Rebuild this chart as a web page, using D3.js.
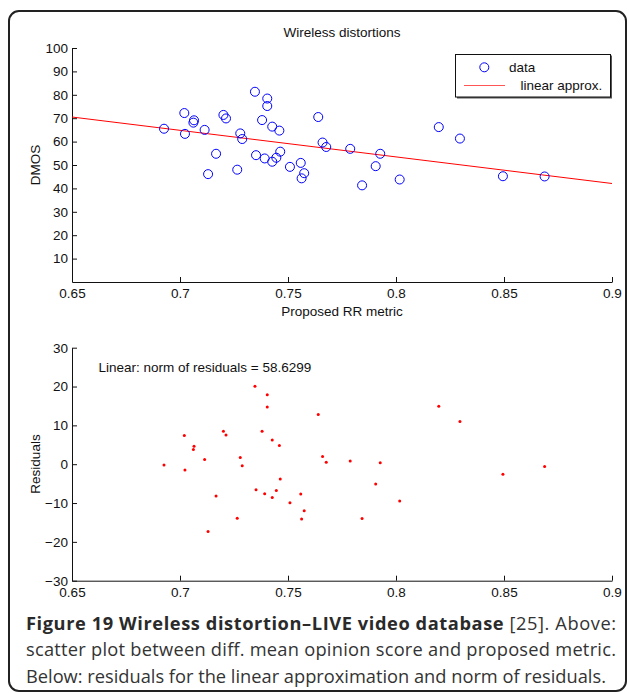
<!DOCTYPE html>
<html>
<head>
<meta charset="utf-8">
<script src="https://cdn.jsdelivr.net/npm/d3@7"></script>
<style>
  body { margin: 0; background: #fff; }
  svg { display: block; }
  .chart text { font-family: "Liberation Sans", Arial, sans-serif; font-size: 13.5px; fill: #111; }
  .cap { font-family: "Open Sans", sans-serif; fill: #333; }
</style>
</head>
<body>
<svg id="fig" width="629" height="693"></svg>
<script>
// ---- data ----
const rrMetric = [0.6926, 0.7020, 0.7023, 0.7065, 0.7062, 0.7114, 0.7167, 0.7130, 0.7201, 0.7213,
                  0.7279, 0.7288, 0.7265, 0.7347, 0.7404, 0.7404, 0.7380, 0.7427, 0.7460, 0.7352,
                  0.7392, 0.7446, 0.7464, 0.7427, 0.7509, 0.7559, 0.7575, 0.7563, 0.7640, 0.7660,
                  0.7677, 0.7788, 0.7843, 0.7906, 0.7927, 0.8017, 0.8198, 0.8296, 0.8495, 0.8688];
const dmos = [65.5, 72.2, 63.3, 69.1, 68.1, 65.0, 54.8, 46.1, 71.4, 69.9,
              63.5, 61.1, 48.0, 81.3, 78.4, 75.2, 69.2, 66.4, 64.7, 54.2,
              52.8, 53.1, 55.7, 51.4, 49.2, 50.9, 46.5, 44.3, 70.5, 59.6,
              57.7, 56.9, 41.3, 49.5, 54.8, 43.8, 66.2, 61.3, 45.2, 45.1];
const residuals = [-0.2, 7.4, -1.5, 4.6, 3.8, 1.2, -8.2, -17.3, 8.5, 7.5,
                   1.7, -0.4, -13.9, 20.1, 17.9, 14.7, 8.5, 6.2, 4.8, -6.6,
                   -7.6, -6.8, -3.8, -8.6, -9.9, -7.7, -12.0, -14.1, 12.8, 2.0,
                   0.5, 0.8, -14.0, -5.1, 0.4, -9.5, 14.9, 11.0, -2.6, -0.6];
const fitX = [0.65, 0.90];
const fitY = [70.5, 42.1];
const xTicks = [0.65, 0.7, 0.75, 0.8, 0.85, 0.9];
const yTicksTop = [10, 20, 30, 40, 50, 60, 70, 80, 90, 100];
const yTicksBottom = [-30, -20, -10, 0, 10, 20, 30];
const titleText = "Wireless distortions";
const xLabel = "Proposed RR metric";
const yLabelTop = "DMOS";
const yLabelBottom = "Residuals";
const legendLabels = ["data", "linear approx."];
const normText = "Linear: norm of residuals = 58.6299";
const captionBold = "Figure 19 Wireless distortion\u2013LIVE video database";
const captionLines = [" [25]. Above:",
  "scatter plot between diff. mean opinion score and proposed metric.",
  "Below: residuals for the linear approximation and norm of residuals."];

const svg = d3.select("#fig");

// outer frame
svg.append("rect").attr("x", 9).attr("y", 11).attr("width", 617).attr("height", 680)
  .attr("rx", 10).attr("ry", 10).attr("fill", "none").attr("stroke", "#222").attr("stroke-width", 2);

const chart = svg.append("g").attr("class", "chart");

const x = d3.scaleLinear().domain([0.65, 0.9]).range([72, 612]);
const yTop = d3.scaleLinear().domain([0, 100]).range([282, 48]);
const yBot = d3.scaleLinear().domain([-30, 30]).range([580.7, 347.7]);

function drawAxes(yScale, yTicks, yFmt) {
  const gx = chart.append("g").attr("transform", `translate(0,${yScale.range()[0]})`)
    .call(d3.axisBottom(x).tickValues(xTicks).tickFormat(d => String(d))
      .tickSize(-5).tickSizeOuter(0).tickPadding(6.5));
  const gy = chart.append("g").attr("transform", `translate(${x.range()[0]},0)`)
    .call(d3.axisLeft(yScale).tickValues(yTicks).tickFormat(yFmt)
      .tickSize(-5).tickSizeOuter(0).tickPadding(4));
  [gx, gy].forEach(g => {
    g.selectAll("text").attr("fill", "#111");
    g.selectAll("line,path").attr("stroke", "#111").attr("stroke-width", 1);
    g.attr("font-family", null).attr("font-size", null);
  });
}

// ---- top plot ----
drawAxes(yTop, yTicksTop, d => String(d));
chart.append("text").attr("x", 342).attr("y", 37).attr("text-anchor", "middle").text(titleText);
chart.append("text").attr("x", 342).attr("y", 316).attr("text-anchor", "middle").text(xLabel);
chart.append("text").attr("transform", `translate(39.5,165) rotate(-90)`).attr("text-anchor", "middle").text(yLabelTop);

const line = d3.line().x(d => x(d[0])).y(d => yTop(d[1]));
chart.append("path").datum(fitX.map((v, i) => [v, fitY[i]]))
  .attr("d", line).attr("fill", "none").attr("stroke", "#f00").attr("stroke-width", 1);

chart.append("g").selectAll("circle").data(rrMetric).join("circle")
  .attr("cx", d => x(d)).attr("cy", (d, i) => yTop(dmos[i])).attr("r", 4.5)
  .attr("fill", "none").attr("stroke", "#00f").attr("stroke-width", 1);

// legend
const lg = chart.append("g");
lg.append("rect").attr("x", 457).attr("y", 55.5).attr("width", 155).attr("height", 43).attr("fill", "#555");
lg.append("rect").attr("x", 455.5).attr("y", 54.5).attr("width", 155).attr("height", 42.5)
  .attr("fill", "#fff").attr("stroke", "#111").attr("stroke-width", 1);
lg.append("circle").attr("cx", 484.3).attr("cy", 67.3).attr("r", 4.5).attr("fill", "none").attr("stroke", "#00f");
lg.append("text").attr("x", 509).attr("y", 72).text(legendLabels[0]);
lg.append("line").attr("x1", 464).attr("x2", 505).attr("y1", 85.5).attr("y2", 85.5).attr("stroke", "#f55").attr("stroke-width", 1);
lg.append("text").attr("x", 520.5).attr("y", 90).text(legendLabels[1]);

// ---- bottom plot ----
drawAxes(yBot, yTicksBottom, d3.format("d"));
chart.append("text").attr("transform", `translate(39.5,464) rotate(-90)`).attr("text-anchor", "middle").text(yLabelBottom);
chart.append("text").attr("x", 98.5).attr("y", 372).text(normText);
chart.append("g").selectAll("circle").data(rrMetric).join("circle")
  .attr("cx", d => x(d)).attr("cy", (d, i) => yBot(residuals[i])).attr("r", 1.5)
  .attr("fill", "#f00");

// ---- caption ----
const capLeft = 26, capRight = 616;
const baselines = [630, 656, 683];
const t1 = svg.append("text").attr("class", "cap").attr("x", capLeft).attr("y", baselines[0]);
t1.append("tspan").attr("font-weight", "bold").attr("fill", "#2a2a2a").text(captionBold);
t1.append("tspan").text(captionLines[0]);
const t2 = svg.append("text").attr("class", "cap").attr("x", capLeft).attr("y", baselines[1]).text(captionLines[1]);
const t3 = svg.append("text").attr("class", "cap").attr("x", capLeft).attr("y", baselines[2]).text(captionLines[2]);
[t1, t2, t3].forEach(t => t.attr("font-size", 18));
const w3 = t3.node().getComputedTextLength();
const fs = 18 * (606 - capLeft) / w3;
[t1, t2, t3].forEach(t => t.attr("font-size", fs));
[t1, t2].forEach(t => t.attr("textLength", capRight - capLeft).attr("lengthAdjust", "spacing"));
</script>
</body>
</html>
